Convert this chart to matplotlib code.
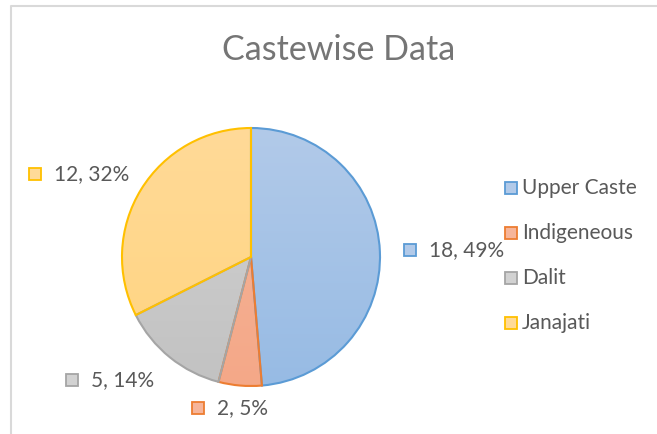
import matplotlib
matplotlib.use("Agg")
import matplotlib.pyplot as plt
import numpy as np
from matplotlib.colors import LinearSegmentedColormap

plt.rcParams['font.family'] = ['Lato', 'DejaVu Sans']

categories = ['Upper Caste', 'Indigeneous', 'Dalit', 'Janajati']
counts = [18, 2, 5, 12]
edge_colors = ['#5B9BD5', '#ED7D31', '#A5A5A5', '#FFC000']
fill_top = ['#B2CAE9', '#F6B59A', '#D2D2D2', '#FFDA98']
fill_bottom = ['#97BBE4', '#F4A888', '#C2C2C2', '#FFD47F']

W, H = 657, 434
fig = plt.figure(figsize=(W / 100, H / 100), dpi=100)
ax = fig.add_axes([0, 0, 1, 1])

# chart border (only top and left visible in crop)
ax.plot([11, 11, W], [0, H - 6, H - 6], color='#D9D9D9', lw=1.5)

cx, cy, r = 251, H - 257, 129
wedges, _ = ax.pie(counts, colors=fill_bottom, startangle=90, counterclock=False,
                   center=(cx, cy), radius=r, frame=True,
                   wedgeprops=dict(linewidth=1.5))
ax.set_xlim(0, W)
ax.set_ylim(0, H)
ax.set_aspect('equal')
ax.axis('off')

# vertical gradient fill clipped to each wedge
grad = np.linspace(0, 1, 256).reshape(-1, 1)
for w, ec, top, bot in zip(wedges, edge_colors, fill_top, fill_bottom):
    w.set_edgecolor(ec)
    cmap = LinearSegmentedColormap.from_list('g', [top, bot])
    im = ax.imshow(grad, cmap=cmap, extent=[cx - r, cx + r, cy - r, cy + r],
                   origin='upper', aspect='auto', zorder=2)
    im.set_clip_path(w)
    w.set_facecolor('none')
    w.set_zorder(3)
ax.set_xlim(0, W)
ax.set_ylim(0, H)

ax.text(339, H - 50, 'Castewise Data', ha='center', va='center',
        fontsize=24.5, color='#757575')

total = sum(counts)
label_pos = [(410, 250), (198, 408), (72, 380), (35, 174)]
for (x, y), n, ec, top in zip(label_pos, counts, edge_colors, fill_top):
    ax.plot(x, H - y, marker='s', ms=8.5, mfc=top, mec=ec, mew=1.3)
    ax.text(x + 19, H - y, f'{n}, {round(100 * n / total)}%', ha='left',
            va='center', fontsize=15, color='#595959')

leg_y = [188, 233, 278, 323]
for y, name, ec, top in zip(leg_y, categories, edge_colors, fill_top):
    ax.plot(511, H - y, marker='s', ms=8.5, mfc=top, mec=ec, mew=1.3)
    ax.text(522, H - y, name, ha='left', va='center', fontsize=15,
            color='#595959')

fig.savefig('out.png', dpi=100)
